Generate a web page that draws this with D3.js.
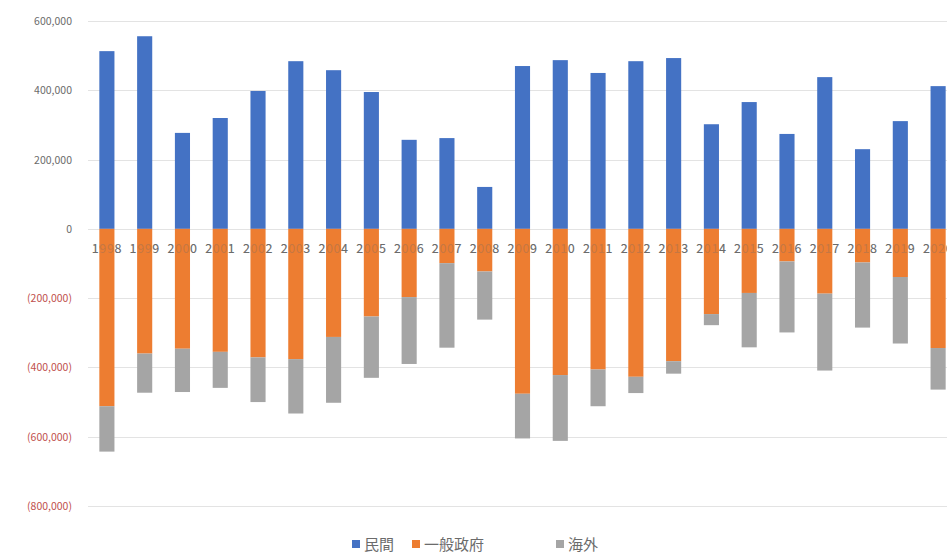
<!DOCTYPE html>
<html>
<head>
<meta charset="utf-8">
<script src="https://cdn.jsdelivr.net/npm/d3@7"></script>
<style>
  body { margin: 0; background: #fff; }
  svg { display: block; font-family: "Noto Sans CJK JP", "Liberation Sans", sans-serif; }
</style>
</head>
<body>
<svg width="947" height="557"></svg>
<script>
// data
var years = ["1998","1999","2000","2001","2002","2003","2004","2005","2006","2007","2008",
             "2009","2010","2011","2012","2013","2014","2015","2016","2017","2018","2019","2020"];
var minkan = [513000, 556000, 277000, 320000, 398000, 484000, 458000, 395000, 257000, 262000, 121000,
              470000, 487000, 450000, 484000, 493000, 302000, 366000, 274000, 438000, 230000, 311000, 412000];
var seifu = [-512000, -360000, -346000, -355000, -371000, -376000, -312000, -253000, -197000, -99000, -123000,
             -476000, -422000, -406000, -427000, -382000, -246000, -185000, -94000, -187000, -97000, -139000, -344000];
var kaigai = [-131000, -113000, -125000, -104000, -129000, -157000, -190000, -177000, -193000, -244000, -139000,
              -129000, -190000, -106000, -47000, -36000, -32000, -157000, -205000, -222000, -188000, -192000, -120000];
var yTicks = [600000, 400000, 200000, 0, -200000, -400000, -600000, -800000];
var seriesNames = ["民間", "一般政府", "海外"];
var colors = ["#4472C4", "#ED7D31", "#A5A5A5"];

var svg = d3.select("svg");

var x = d3.scaleBand()
  .domain(years)
  .range([88, 957])
  .paddingInner(0.6)
  .paddingOuter(0.3);

var y = d3.scaleLinear()
  .domain([-800000, 600000])
  .range([506, 21]);

// gridlines
svg.append("g")
  .selectAll("line")
  .data(yTicks)
  .enter()
  .append("line")
  .attr("x1", 88)
  .attr("x2", 947)
  .attr("y1", function(d) { return Math.round(y(d)) + 0.5; })
  .attr("y2", function(d) { return Math.round(y(d)) + 0.5; })
  .attr("stroke", "#e3e3e3")
  .attr("stroke-width", 1);

// y axis labels, negatives red in brackets
var fmt = d3.format(",");
svg.append("g")
  .selectAll("text")
  .data(yTicks)
  .enter()
  .append("text")
  .attr("x", 72)
  .attr("y", function(d) { return y(d) + 4; })
  .attr("text-anchor", "end")
  .attr("font-size", 10.5)
  .attr("fill", function(d) { return d < 0 ? "#c0504d" : "#6b6b6b"; })
  .text(function(d) { return d < 0 ? "(" + fmt(-d) + ")" : fmt(d); });

// year labels (drawn under the bars, and again faintly on top)
function yearLabels(op) {
  svg.append("g")
    .attr("opacity", op)
    .selectAll("text")
    .data(years)
    .enter()
    .append("text")
    .attr("x", function(d) { return x(d) + x.bandwidth() / 2; })
    .attr("y", 253)
    .attr("text-anchor", "middle")
    .attr("font-size", 12.5)
    .attr("letter-spacing", 0.6)
    .attr("fill", "#6b6b6b")
    .text(function(d) { return d; });
}
yearLabels(1);

// stacked bars: positive from zero up, negatives stacked down
var bars = svg.append("g");
years.forEach(function(yr, i) {
  var segs = [
    { y0: 0, y1: minkan[i], c: colors[0] },
    { y0: 0, y1: seifu[i], c: colors[1] },
    { y0: seifu[i], y1: seifu[i] + kaigai[i], c: colors[2] }
  ];
  bars.selectAll(null)
    .data(segs)
    .enter()
    .append("rect")
    .attr("x", x(yr))
    .attr("width", x.bandwidth())
    .attr("y", function(d) { return y(Math.max(d.y0, d.y1)); })
    .attr("height", function(d) { return Math.abs(y(d.y0) - y(d.y1)); })
    .attr("fill", function(d) { return d.c; });
});

yearLabels(0.3);

// legend
var legendX = [352, 412, 556];
var legend = svg.append("g");
seriesNames.forEach(function(name, i) {
  legend.append("rect")
    .attr("x", legendX[i])
    .attr("y", 540)
    .attr("width", 8)
    .attr("height", 8)
    .attr("fill", colors[i]);
  legend.append("text")
    .attr("x", legendX[i] + 12)
    .attr("y", 550)
    .attr("font-size", 15)
    .attr("fill", "#6b6b6b")
    .text(name);
});
</script>
</body>
</html>
